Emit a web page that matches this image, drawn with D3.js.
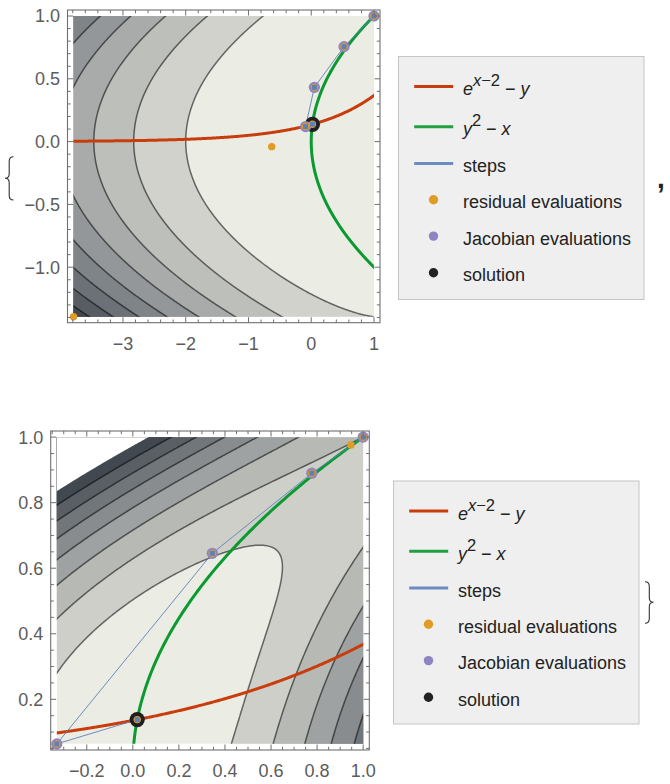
<!DOCTYPE html>
<html><head><meta charset="utf-8">
<script src="https://cdn.jsdelivr.net/npm/d3@7"></script>
<style>
body{margin:0;background:#fff;}
svg{display:block;font-family:"Liberation Sans",Arial,Helvetica,sans-serif;}
</style>
</head><body>
<svg id="c" width="670" height="784"></svg>
<script>
// ---------------- data ----------------
// Newton steps (x, y)
const steps1 = [[1, 1], [0.523, 0.756], [0.05, 0.432], [-0.09, 0.12], [0.019, 0.138]];
const residualExtra1 = [[-3.788, -1.394], [-0.63, -0.04]];
const steps2 = [[1, 1], [0.777, 0.890], [0.345, 0.6455], [-0.33, 0.064], [0.019, 0.138]];
const residualExtra2 = [[0.947, 0.976]];
const solution = [0.019, 0.138];

// contour levels of the merit function (e^(x-2)-y)^2 + (y^2-x)^2
const contourLevels1 = [4, 8, 12, 16, 20, 24, 28, 32];
const contourLevels2 = [0.2, 0.4, 0.6, 0.8, 1.0, 1.2, 1.4];
const clipLevel2 = 1.6;

// ticks
const xTicks1 = [-3, -2, -1, 0, 1];
const yTicks1 = [-1, -0.5, 0, 0.5, 1];
const xTicks2 = [-0.2, 0, 0.2, 0.4, 0.6, 0.8, 1];
const yTicks2 = [0.2, 0.4, 0.6, 0.8, 1];

const legendLabels = ["e^{x−2} − y", "y^2 − x", "steps", "residual evaluations", "Jacobian evaluations", "solution"];

// ---------------- style ----------------
const C = {
  red: "#c93c0c", green: "#0a9a30", blue: "#5e81b5", orange: "#e19c24",
  purple: "#8f83c2", black: "#1f1f1f", frame: "#707070", tick: "#5c5c5c"
};
const bandPalette = d3.scaleLinear()
  .domain([0, 0.125, 0.25, 0.5, 0.75, 1])
  .range(["#ebece4", "#d1d2cc", "#bdbfba", "#939799", "#6b7176", "#42484f"]);

const svg = d3.select("#c");
const defs = svg.append("defs");

function f1(x, y) { return Math.exp(x - 2) - y; }
function f2(x, y) { return y * y - x; }

function drawPlot(cfg, idx) {
  const pts = cfg.steps.concat(cfg.residualExtra);
  const xr = d3.extent(pts, d => d[0]), yr = d3.extent(pts, d => d[1]);
  const W = xr[1] - xr[0], H = yr[1] - yr[0];
  const x = d3.scaleLinear().domain([xr[0] - 0.02 * W, xr[1] + 0.02 * W]).range([cfg.left, cfg.right]);
  const y = d3.scaleLinear().domain([yr[0] - 0.02 * H, yr[1] + 0.02 * H]).range([cfg.bottom, cfg.top]);
  const g = svg.append("g");

  const clipId = "clip" + idx;
  defs.append("clipPath").attr("id", clipId).append("rect")
    .attr("x", x(xr[0])).attr("y", y(yr[1]))
    .attr("width", x(xr[1]) - x(xr[0])).attr("height", y(yr[0]) - y(yr[1]));

  // sample grid (slightly larger than the plot range)
  const N = 320;
  const gx0 = xr[0] - 0.03 * W, gx1 = xr[1] + 0.03 * W;
  const gy0 = yr[0] - 0.03 * H, gy1 = yr[1] + 0.03 * H;
  const hx = (gx1 - gx0) / (N - 1), hy = (gy1 - gy0) / (N - 1);
  const Fv = new Float64Array(N * N), G1 = new Float64Array(N * N), G2 = new Float64Array(N * N);
  for (let j = 0; j < N; j++) for (let i = 0; i < N; i++) {
    const xv = gx0 + i * hx, yv = gy0 + j * hy;
    const a = f1(xv, yv), b = f2(xv, yv);
    G1[j * N + i] = a; G2[j * N + i] = b; Fv[j * N + i] = a * a + b * b;
  }
  const proj = d3.geoTransform({
    point(px, py) { this.stream.point(x(gx0 + (px - 0.5) * hx), y(gy0 + (py - 0.5) * hy)); }
  });
  const path = d3.geoPath(proj);
  const contours = d3.contours().size([N, N]);

  const cg = g.append("g").attr("clip-path", `url(#${clipId})`);
  const nb = cfg.levels.length + 1;
  cg.append("rect").attr("x", x(xr[0])).attr("y", y(yr[1]))
    .attr("width", x(xr[1]) - x(xr[0])).attr("height", y(yr[0]) - y(yr[1]))
    .attr("fill", bandPalette(0));
  const geoms = cfg.levels.map(l => contours.contour(Fv, l));
  geoms.forEach((gm, k) => {
    cg.append("path").attr("d", path(gm)).attr("fill", bandPalette((k + 1) / (nb - 1)))
      .attr("fill-rule", "evenodd").attr("stroke", "none");
  });
  geoms.forEach(gm => {
    cg.append("path").attr("d", path(gm)).attr("fill", "none")
      .attr("stroke", "#000").attr("stroke-opacity", 0.55).attr("stroke-width", 1.5);
  });
  if (cfg.clip != null) {
    cg.append("path").attr("d", path(contours.contour(Fv, cfg.clip))).attr("fill", "#fff")
      .attr("fill-rule", "evenodd");
  }
  // zero curves
  cg.append("path").attr("d", path(contours.contour(G1, 0))).attr("fill", "none")
    .attr("stroke", C.red).attr("stroke-width", 3);
  cg.append("path").attr("d", path(contours.contour(G2, 0))).attr("fill", "none")
    .attr("stroke", C.green).attr("stroke-width", 3);

  // steps
  g.append("path").datum(cfg.steps)
    .attr("d", d3.line().x(d => x(d[0])).y(d => y(d[1])))
    .attr("fill", "none").attr("stroke", C.blue).attr("stroke-width", 0.9);

  // solution
  g.append("circle").attr("cx", x(solution[0])).attr("cy", y(solution[1])).attr("r", 7.6).attr("fill", C.black);
  // Jacobian evaluations
  g.selectAll(null).data(cfg.steps.slice(0, -1)).enter().append("circle")
    .attr("cx", d => x(d[0])).attr("cy", d => y(d[1])).attr("r", 5.6).attr("fill", C.purple);
  // residual evaluations
  g.selectAll(null).data(cfg.steps.concat(cfg.residualExtra)).enter().append("circle")
    .attr("cx", d => x(d[0])).attr("cy", d => y(d[1])).attr("r", 3.7).attr("fill", C.orange);
  // step points
  g.selectAll(null).data(cfg.steps).enter().append("rect")
    .attr("x", d => x(d[0]) - 2.5).attr("y", d => y(d[1]) - 2.5).attr("width", 5).attr("height", 5)
    .attr("fill", C.blue);

  // frame
  g.append("rect").attr("x", cfg.left).attr("y", cfg.top)
    .attr("width", cfg.right - cfg.left).attr("height", cfg.bottom - cfg.top)
    .attr("fill", "none").attr("stroke", C.frame).attr("stroke-width", 1.1);

  const xd = x.domain(), yd = y.domain();
  const eps = 1e-9;
  const minorX = d3.range(Math.ceil(xd[0] / cfg.mx - eps), Math.floor(xd[1] / cfg.mx + eps) + 1).map(k => k * cfg.mx);
  const minorY = d3.range(Math.ceil(yd[0] / cfg.my - eps), Math.floor(yd[1] / cfg.my + eps) + 1).map(k => k * cfg.my);
  const isMajor = (v, arr) => arr.some(t => Math.abs(t - v) < 1e-6);
  const tk = g.append("g").attr("stroke", C.frame).attr("stroke-width", 1);
  minorX.forEach(v => {
    const L = isMajor(v, cfg.xt) ? 5.5 : 3.2, px = x(v);
    tk.append("line").attr("x1", px).attr("x2", px).attr("y1", cfg.bottom).attr("y2", cfg.bottom - L);
    tk.append("line").attr("x1", px).attr("x2", px).attr("y1", cfg.top).attr("y2", cfg.top + L);
  });
  minorY.forEach(v => {
    const L = isMajor(v, cfg.yt) ? 5.5 : 3.2, py = y(v);
    tk.append("line").attr("y1", py).attr("y2", py).attr("x1", cfg.left).attr("x2", cfg.left + L);
    tk.append("line").attr("y1", py).attr("y2", py).attr("x1", cfg.right).attr("x2", cfg.right - L);
  });
  g.selectAll(null).data(cfg.xt).enter().append("text")
    .attr("x", d => x(d)).attr("y", cfg.bottom + 27.3).attr("text-anchor", "middle")
    .attr("font-size", 18).attr("fill", C.tick).text(d => cfg.xf(d));
  g.selectAll(null).data(cfg.yt).enter().append("text")
    .attr("x", cfg.left - 7.5).attr("y", d => y(d) + 6.4).attr("text-anchor", "end")
    .attr("font-size", 18).attr("fill", C.tick).text(d => cfg.yf(d));
}

drawPlot({
  steps: steps1, residualExtra: residualExtra1, levels: contourLevels1, clip: null,
  left: 67.5, right: 380, top: 10, bottom: 322.7,
  xt: xTicks1, yt: yTicks1, mx: 0.2, my: 0.1, xf: d3.format("d"), yf: d3.format(".1f")
}, 1);
drawPlot({
  steps: steps2, residualExtra: residualExtra2, levels: contourLevels2, clip: clipLevel2,
  left: 50.7, right: 369.3, top: 431, bottom: 750,
  xt: xTicks2, yt: yTicks2, mx: 0.05, my: 0.05, xf: d3.format(".1f"), yf: d3.format(".1f")
}, 2);

// ---------------- legends ----------------
const itemOffsets = [30, 70.2, 107, 143.2, 179.6, 216.2];
function drawLegend(x0, y0) {
  const g = svg.append("g").attr("transform", `translate(${x0},${y0})`);
  g.append("rect").attr("width", 245.5).attr("height", 243)
    .attr("fill", "#efefef").attr("stroke", "#c4c4c4").attr("stroke-width", 1);
  const kinds = [
    {t: "line", c: C.red}, {t: "line", c: "#20a040"}, {t: "line", c: "#6a8dc2"},
    {t: "dot", c: C.orange}, {t: "dot", c: C.purple}, {t: "dot", c: "#222"}
  ];
  kinds.forEach((k, i) => {
    const cy = itemOffsets[i];
    if (k.t === "line") g.append("line").attr("x1", 15.7).attr("x2", 54.7).attr("y1", cy).attr("y2", cy)
      .attr("stroke", k.c).attr("stroke-width", 3);
    else g.append("circle").attr("cx", 35).attr("cy", cy).attr("r", 4.7).attr("fill", k.c);
    const tx = g.append("text").attr("x", 64.4).attr("y", cy + 8.5).attr("font-size", 18).attr("fill", "#222");
    const lab = legendLabels[i];
    if (i === 0) {
      tx.append("tspan").attr("font-style", "italic").text("e");
      tx.append("tspan").attr("dy", -9).attr("font-size", 16.5).attr("font-style", "italic").text("x");
      tx.append("tspan").attr("font-size", 16.5).text("−2");
      tx.append("tspan").attr("dy", 9).text(" − ");
      tx.append("tspan").attr("font-style", "italic").text("y");
    } else if (i === 1) {
      tx.append("tspan").attr("font-style", "italic").text("y");
      tx.append("tspan").attr("dy", -9).attr("font-size", 16.5).text("2");
      tx.append("tspan").attr("dy", 9).text(" − ");
      tx.append("tspan").attr("font-style", "italic").text("x");
    } else tx.text(lab);
  });
}
drawLegend(398.5, 56.5);
drawLegend(393.5, 481);

// ---------------- list punctuation ----------------
svg.append("path").attr("d", "M13.5,156.7 Q9.2,156.7 9.2,161.5 L9.2,173.8 Q9.2,178.3 5,178.3 Q9.2,178.3 9.2,182.8 L9.2,195.2 Q9.2,200 13.5,200")
  .attr("fill", "none").attr("stroke", "#333").attr("stroke-width", 1.1);
svg.append("path").attr("d", "M645,581.7 Q649.3,581.7 649.3,586.5 L649.3,597.8 Q649.3,602.3 653.5,602.3 Q649.3,602.3 649.3,606.8 L649.3,618.5 Q649.3,623.3 645,623.3")
  .attr("fill", "none").attr("stroke", "#333").attr("stroke-width", 1.1);
svg.append("text").attr("x", 657).attr("y", 188).attr("font-size", 28).attr("font-weight", "bold")
  .attr("fill", "#222").text(",");
</script>
</body></html>
